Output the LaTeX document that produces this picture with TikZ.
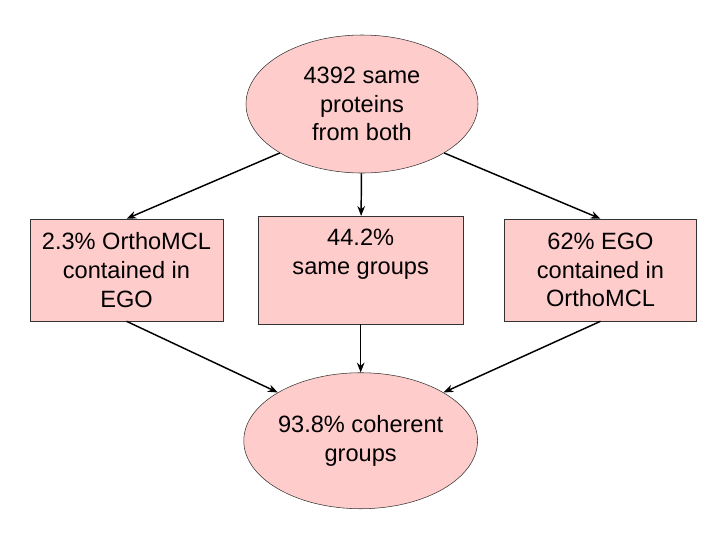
\documentclass[tikz,border=0pt]{standalone}
\usepackage{fontspec}
\setmainfont{Liberation Sans}
\usepackage{xcolor}
\usetikzlibrary{positioning, arrows.meta, shapes.geometric}
\definecolor{rosy}{HTML}{FFCCCC}
\definecolor{edge}{HTML}{333333}
\tikzset{
  blob/.style={ellipse, draw=edge, fill=rosy, align=center, inner sep=0pt,
               font=\fontsize{17.7}{21.6}\selectfont},
  cell/.style={rectangle, draw=edge, fill=rosy, align=center, inner sep=0pt,
               font=\fontsize{17.7}{21.6}\selectfont},
  ar/.style={-{Stealth[length=2.6mm, width=2mm]}, line width=1.1pt, black},
}

\begin{document}
\begin{tikzpicture}[x=0.75pt, y=-0.75pt]
  \useasboundingbox (0,0) rectangle (720,540);
  \node[blob, minimum width=174pt, minimum height=103.5pt] (same) at (362,104)
    {4392 same\\proteins\\from both};
  \node[cell, minimum width=154pt, minimum height=81pt, below=32pt of same.south, anchor=north,
        xshift=-1pt] (groups) {44.2\%\\same groups\\\strut};
  \node[cell, minimum width=145pt, minimum height=76.5pt] (ortho) at (126.5,270)
    {2.3\% OrthoMCL\\contained in\\EGO};
  \node[cell, minimum width=144pt, minimum height=76.5pt] (ego) at (600.5,270)
    {62\% EGO\\contained in\\OrthoMCL};
  \node[blob, minimum width=172pt, minimum height=102pt, below=36pt of groups.south, anchor=north]
    (coherent) {93.8\% coherent\\groups};

  % from the shared proteins down to the three groupings
  \draw[ar] (same.south west) -- (ortho.north);
  \draw[ar] (same) -- (groups);
  \draw[ar] (same.south east) -- (ego.north);
  % and on to the coherent groups
  \draw[ar] (ortho.south) -- (coherent.north west);
  \draw[ar] (groups) -- (coherent);
  \draw[ar] (ego.south) -- (coherent.north east);
\end{tikzpicture}
\end{document}
